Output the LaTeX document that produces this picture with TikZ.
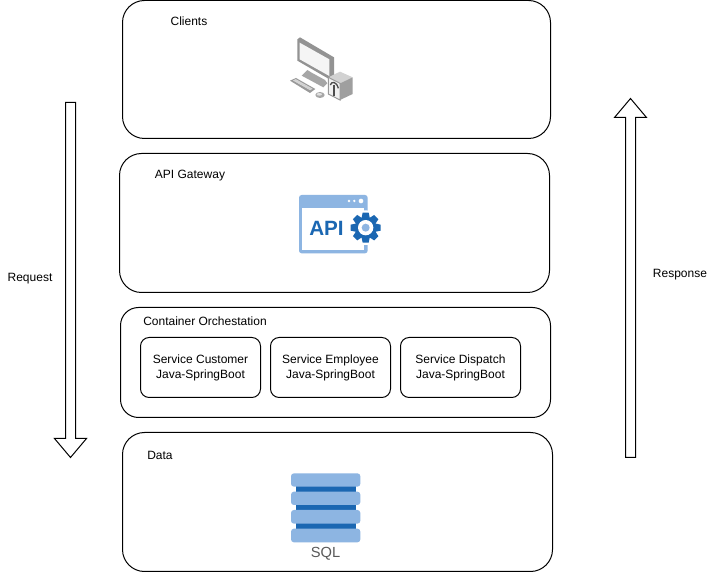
\documentclass[tikz,border=0pt]{standalone}
\usepackage{fontspec}
\setmainfont{Liberation Sans}
\begin{document}
\begin{tikzpicture}[x=0.75pt,y=-0.75pt,
  panel/.style={draw=black,line width=0.75pt,fill=white,rounded corners=16.5pt},
  panelb/.style={draw=black,line width=0.75pt,fill=white,rounded corners=13.5pt},
  svc/.style={draw=black,line width=0.75pt,fill=white,rounded corners=6.5pt},
  lbl/.style={font=\fontsize{9}{11.25}\selectfont,text=black,inner sep=0pt,align=center},
  bigarrow/.style={draw=black,line width=0.75pt,fill=white,line join=miter},
  lightb/.style={fill=icolight,draw=none},
  darkb/.style={fill=icodark,draw=none}]
\definecolor{icolight}{HTML}{8DB5E2}
\definecolor{icodark}{HTML}{1B67B2}
\useasboundingbox (0,0) rectangle (711,573);
\fill[white] (0,0) rectangle (711,573);
% panels
\draw[panel] (122.5,0.5) rectangle (550.5,138.5);
\draw[panel] (119.5,153.5) rectangle (549.5,292.5);
\draw[panelb] (120.5,307.5) rectangle (550.5,417.5);
\draw[panel] (122.5,432.5) rectangle (552.5,571.5);
% services
\node[svc,lbl,minimum width=90pt,minimum height=45pt] (s1) at (200.5,367.5) {Service Customer\\Java-SpringBoot};
\node[svc,lbl,minimum width=90pt,minimum height=45pt] (s2) at (330.5,367.5) {Service Employee\\Java-SpringBoot};
\node[svc,lbl,minimum width=90pt,minimum height=45pt] (s3) at (460.5,367.5) {Service Dispatch\\Java-SpringBoot};
% labels
\node[lbl] (t1) at (189,21.5) {Clients};
\node[lbl] (t2) at (190,175.5) {API Gateway};
\node[lbl] (t3) at (205,321.5) {Container Orchestation};
\node[lbl] (t4) at (160,455.5) {Data};
\node[lbl] (t5) at (30,278.5) {Request};
\node[lbl] (t6) at (680,274.5) {Response};
% arrows
\draw[bigarrow] (65.5,102.5) -- (75.5,102.5) -- (75.5,438.5) -- (86.5,438.5) -- (70.5,457.5) -- (54.5,438.5) -- (65.5,438.5) -- cycle;
\draw[bigarrow] (625.5,457.5) -- (635.5,457.5) -- (635.5,117.5) -- (646.5,117.5) -- (630.5,98.5) -- (614.5,117.5) -- (625.5,117.5) -- cycle;
% computer icon
\begin{scope}[shift={(270,20)},x=0.25pt,y=-0.25pt]
 \fill[gray!85] (82,58) -- (90,52) -- (192,112) -- (192,175) -- (182,180) -- (82,122) -- cycle;
 \fill[gray!8] (89,68) -- (178,118) -- (178,168) -- (89,118) -- cycle;
 \fill[gray!70] (112,150) -- (125,158) -- (165,180) -- (172,190) -- (160,202) -- (95,167) -- cycle;
 \fill[gray!80] (60,182) -- (78,174) -- (136,207) -- (120,219) -- cycle;
 \foreach \k in {0,1,2,3} \draw[gray!30,line width=0.5pt] ({70+\k*2},{181+\k*-1}) -- ({121+\k*2},{210+\k*-1});
 \fill[gray!70] (150,225) ellipse (14 and 9);
 \fill[gray!25] (148,223) ellipse (8 and 4);
 \fill[gray!35] (175,172) -- (210,155) -- (248,172) -- (210,190) -- cycle;
 \fill[gray!75] (210,190) -- (248,172) -- (248,222) -- (210,240) -- cycle;
 \fill[gray!12,draw=gray!80,line width=0.75pt] (175,172) -- (210,190) -- (210,240) -- (175,222) -- cycle;
 \draw[gray!60!black,line width=1pt] (181,195) .. controls (185,182) and (200,185) .. (205,205);
 \draw[gray!60!black,line width=1pt] (192,195) -- (192,228);
\end{scope}
% API icon
\begin{scope}[shift={(285,185)},x=0.25pt,y=-0.25pt]
 \fill[lightb,rounded corners=2pt] (42,30) rectangle (248,205);
 \fill[white] (52,68) rectangle (238,195);
 \fill[white] (192,48) circle (4) (208,48) circle (4) (228,48) circle (7);
 \fill[white] (242,128) circle (52);
 \fill[darkb] (242,128) circle (32);
 \foreach \a in {0,45,...,315}
   \fill[darkb,rotate around={\a:(242,128)}] (233,83) -- (251,83) -- (255,102) -- (229,102) -- cycle;
 \fill[white] (242,128) circle (23);
 \fill[lightb] (242,128) circle (12);
\end{scope}
\node[font=\fontsize{15.5}{18}\selectfont\bfseries,text=icodark,inner sep=0pt] (api) at (326.5,228.5) {API};
% SQL icon
\begin{scope}[shift={(275,465)},x=0.25pt,y=-0.25pt]
 \fill[darkb] (62,40) rectangle (242,205);
 \fill[lightb,rounded corners=2.2pt] (48,25) rectangle (256,65);
 \fill[lightb,rounded corners=2.2pt] (48,80) rectangle (256,120);
 \fill[lightb,rounded corners=2.2pt] (48,135) rectangle (256,176);
 \fill[lightb,rounded corners=2.2pt] (48,191) rectangle (256,232);
\end{scope}
\node[font=\fontsize{11}{13}\selectfont,text=black!65,inner sep=0pt] (sql) at (325.5,553.5) {SQL};
\end{tikzpicture}
\end{document}
